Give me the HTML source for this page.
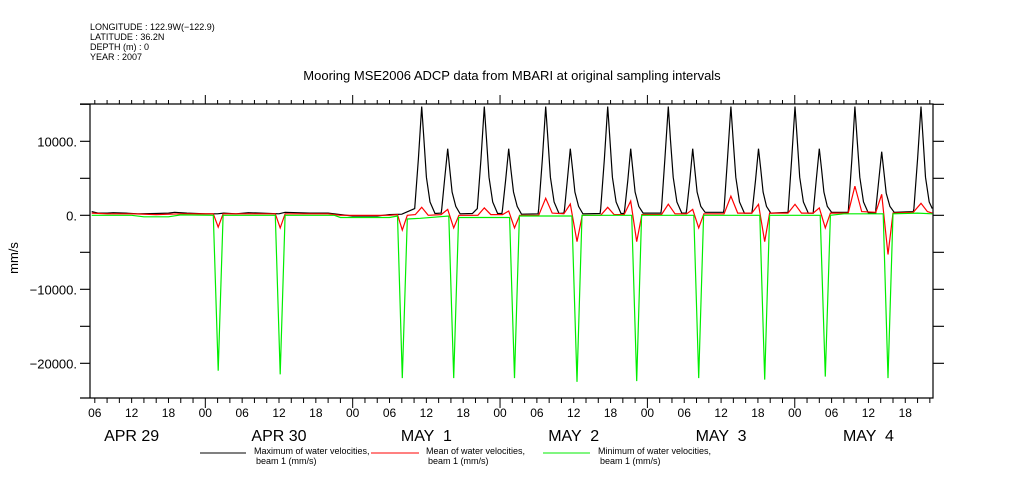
<!DOCTYPE html>
<html><head><meta charset="utf-8"><style>
html,body{margin:0;padding:0;background:#fff;}
svg{display:block;font-family:"Liberation Sans",sans-serif;}
</style></head><body>
<svg id="chart" width="1009" height="504" viewBox="0 0 1009 504">
<g font-size="9" fill="#000">
<text x="90" y="30">LONGITUDE : 122.9W(−122.9)</text>
<text x="90" y="40">LATITUDE : 36.2N</text>
<text x="90" y="50">DEPTH (m) : 0</text>
<text x="90" y="60">YEAR : 2007</text>
</g>
<text x="512" y="80" text-anchor="middle" font-size="13">Mooring MSE2006 ADCP data from MBARI at original sampling intervals</text>
<text transform="translate(18,258) rotate(-90)" text-anchor="middle" font-size="13">mm/s</text>
<g id="axes"></g>
<g id="series"></g>
<g font-size="9">
<line x1="200" y1="453" x2="246" y2="453" stroke="#000"/>
<text x="254" y="454">Maximum of water velocities,</text>
<text x="256" y="464">beam 1 (mm/s)</text>
<line x1="371" y1="453" x2="419" y2="453" stroke="#f00"/>
<text x="426" y="454">Mean of water velocities,</text>
<text x="428" y="464">beam 1 (mm/s)</text>
<line x1="543" y1="453" x2="590" y2="453" stroke="#0e0"/>
<text x="598" y="454">Minimum of water velocities,</text>
<text x="600" y="464">beam 1 (mm/s)</text>
</g>
</svg>
<script>
// hours since APR 29 00:00
const maxHours=[5.5,6.5,8,9,11,13,16,18,19,21,24,26,27,29,31,33,36,37,39,41,44,46,48,52,54,56,
58.1,58.7,59.24,59.6,60.0,60.6,61.4,62.4,
62.5,62.95,63.47,63.8,64.2,64.8,65.5,67.5,
68.3,68.9,69.44,69.8,70.2,70.8,71.6,72.3,
72.4,72.9,73.41,73.75,74.2,74.8,75.5,78.2,
78.3,78.9,79.44,79.8,80.2,80.8,81.6,82.4,
82.5,82.95,83.44,83.8,84.2,84.8,85.5,88.3,
88.4,89.0,89.53,89.9,90.3,90.9,91.7,92.2,
92.3,92.8,93.28,93.6,94.0,94.6,95.3,98.2,
98.3,98.85,99.4,99.75,100.2,100.8,101.6,102.3,
102.4,102.9,103.38,103.7,104.1,104.7,105.4,108.4,
108.5,109.05,109.6,109.95,110.4,111.0,111.8,113.0,
113.1,113.6,114.1,114.45,114.85,115.4,116.1,118.9,
118.95,119.5,120.04,120.4,120.8,121.4,122.2,123,
123.05,123.5,124.0,124.35,124.75,125.3,126,128.7,
128.75,129.3,129.8,130.15,130.6,131.2,132,133.2,
133.2,133.65,134.16,134.5,134.9,135.5,136.2,139.3,
139.4,140.0,140.56,140.9,141.3,141.9,142.4];
const maxVals=[500,300,300,350,300,200,250,300,400,300,200,200,300,200,350,300,200,400,350,300,300,100,-100,-100,100,150,
900,7650,14700,10300,5150,1800,250,300,
800,4700,9000,6300,3150,1200,200,250,
900,7650,14700,10300,5150,1800,250,250,
800,4700,9000,6300,3150,1200,150,200,
900,7650,14700,10300,5150,1800,250,300,
800,4700,9000,6300,3150,1200,200,250,
900,7650,14700,10300,5150,1800,250,250,
800,4700,9000,6300,3150,1200,300,300,
900,7650,14700,10300,5150,1800,300,300,
800,4700,9000,6300,3150,1200,400,400,
900,7650,14700,10300,5150,1800,300,300,
800,4700,9000,6300,3150,1200,300,400,
900,7650,14700,10300,5150,1800,300,300,
800,4700,9000,6300,3150,1200,400,400,
900,7650,14700,10300,5150,1800,300,300,
800,4500,8600,6000,3000,1200,400,500,
900,7650,14700,10300,5150,1800,900];
const meanHours=[5.5,8,12,16,20,25.3,26.1,26.9,35.4,36.2,37,44,46,54,55.3,56.08,56.9,58.2,59.24,60.3,62.4,63.47,64.45,65.3,68.4,69.44,70.5,72.4,73.41,74.35,75.2,78.3,79.44,80.5,82.4,83.44,84.53,85.4,88.4,89.53,90.6,92.2,93.28,94.26,95.1,98.3,99.4,100.5,102.4,103.38,104.36,105.2,108.5,109.6,110.7,113.0,114.1,115.1,115.9,118.9,120.04,121.1,123,124.0,124.97,125.8,128.7,129.8,130.9,133.2,134.16,135.19,136.0,139.3,140.56,141.6,142.4];
const meanVals=[300,200,200,100,200,200,-1600,200,200,-1700,200,200,0,0,100,-2000,0,100,1080,0,100,800,-1700,0,0,1000,100,100,580,-1700,0,0,2300,300,200,1530,-3560,0,0,1080,100,100,1930,-3560,100,100,1500,200,200,800,-1700,200,200,2600,300,300,1480,-3560,300,300,1480,300,300,1000,-1700,300,300,3950,500,400,2840,-5300,300,400,1620,500,300];
const minHours=[5.5,12,14,18,20,25.3,26.1,26.9,35.4,36.2,37,45,46,54,55.3,56.08,56.9,59,63.65,64.45,65.25,73.55,74.35,75.15,83.7,84.53,85.35,93.45,94.26,95.05,103.55,104.36,105.15,114.3,115.1,115.9,124.15,124.97,125.8,128,134.4,135.19,136,140,142.4];
const minVals=[0,0,-200,-200,50,0,-21000,0,0,-21500,0,0,-300,-300,-100,-22000,-500,-400,-100,-22000,-300,-300,-22000,-100,-100,-22500,0,0,-22400,0,0,-22000,0,0,-22200,0,0,-21800,0,200,200,-22000,200,300,200];
const yTickVals=[10000,0,-10000,-20000];
const yTickLabels=["10000.","0.","-10000.","-20000."];
const hourLabels=["06","12","18","00"];
const dayLabels=["APR 29","APR 30","MAY  1","MAY  2","MAY  3","MAY  4"];

const L=90,R=933,T=104,B=398;
const xs=h=>94.8+(h-6)*6.14;
const ys=v=>215.3-v*0.0074;
const NS="http://www.w3.org/2000/svg";
const axes=document.getElementById('axes'), ser=document.getElementById('series');
function mk(tag,attrs,parent){const e=document.createElementNS(NS,tag);for(const k in attrs)e.setAttribute(k,attrs[k]);parent.appendChild(e);return e;}
let fr=mk('path',{d:`M80 ${T}H${R}V${B}H80M${L} ${T}V${B}`,fill:'none',stroke:'#000','stroke-width':1.2},axes);


for(let v=-25000;v<=15000;v+=5000){const y=ys(v);if(y<T-1||y>B+1)continue;
 const t=mk('path',{d:`M80 ${y}H${L}M${R} ${y}H944`,stroke:'#000','stroke-width':1.2},axes);
 
 }
yTickVals.forEach((v,i)=>{const t=mk('text',{x:77,y:ys(v)+5,'text-anchor':'end','font-size':13},axes);t.textContent=yTickLabels[i].replace('-','\u2212');
 
 });
for(let h=6;h<=142.5;h+=2){const x=xs(h);const major=(h%24===0);
 const t=mk('path',{d:`M${x} ${T}V${major?95:100}M${x} ${B}V${major?408:403}`,stroke:'#000','stroke-width':1},axes);
 
 
 if(h%6===0){const lb=mk('text',{x:x,y:417,'text-anchor':'middle','font-size':12},axes);lb.textContent=hourLabels[((h/6)-1)%4];
  
  }}
dayLabels.forEach((d,i)=>{const t=mk('text',{x:xs(12+24*i),y:441,'text-anchor':'middle','font-size':16},axes);t.textContent=d;t.style.whiteSpace='pre';
 
 });
function line(hs,vs,color,name){const d=hs.map((h,i)=>(i?'L':'M')+xs(h).toFixed(1)+' '+ys(vs[i]).toFixed(1)).join('');
 const p=mk('path',{d:d,fill:'none',stroke:color,'stroke-width':1.2,'stroke-linejoin':'miter'},ser);
 
 }
line(maxHours,maxVals,'#000','max-velocity-line');
line(meanHours,meanVals,'#f00','mean-velocity-line');
line(minHours,minVals,'#0e0','min-velocity-line');
</script>
</body></html>
